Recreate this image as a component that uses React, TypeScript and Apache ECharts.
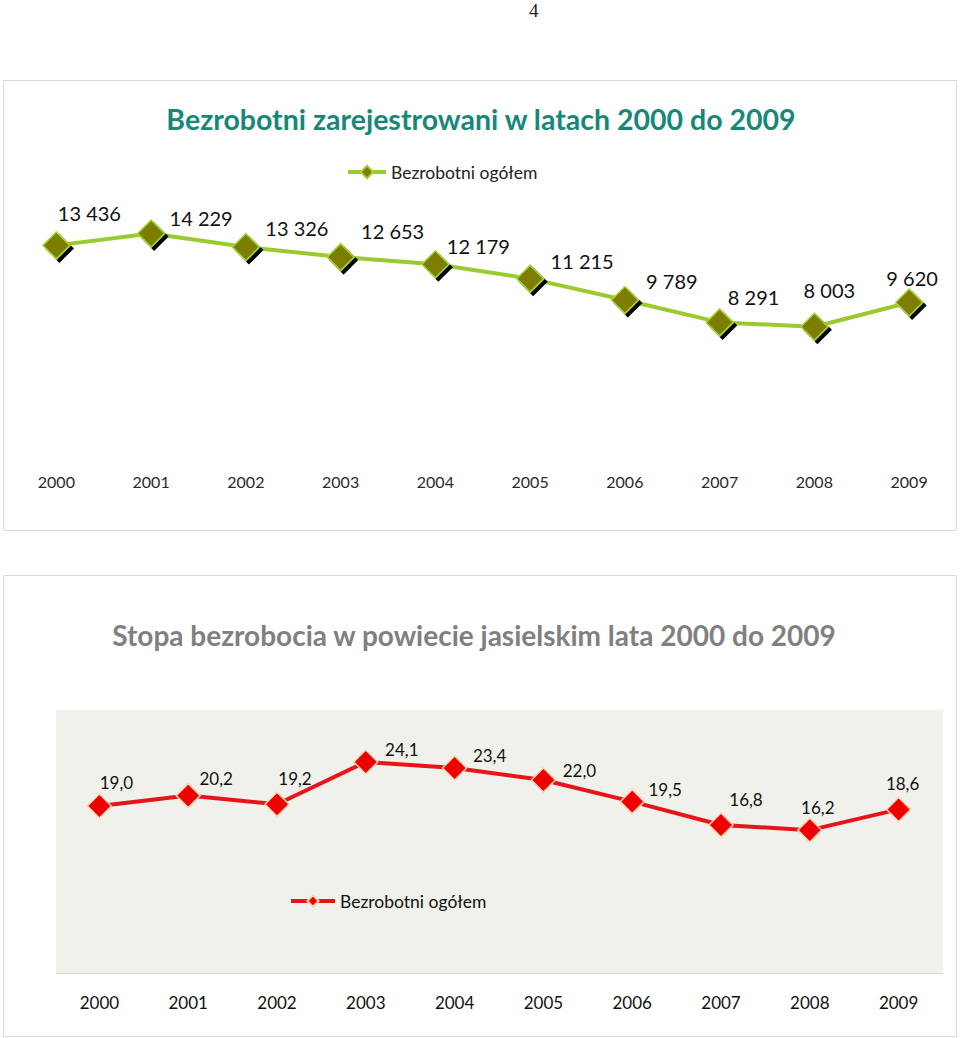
import React, { useEffect, useRef } from "react";
import * as echarts from "echarts";

const years = ["2000", "2001", "2002", "2003", "2004", "2005", "2006", "2007", "2008", "2009"];
const registeredUnemployed = [13436, 14229, 13326, 12653, 12179, 11215, 9789, 8291, 8003, 9620];
const unemploymentRate = [19.0, 20.2, 19.2, 24.1, 23.4, 22.0, 19.5, 16.8, 16.2, 18.6];

const title1 = "Bezrobotni zarejestrowani w latach 2000 do 2009";
const title2 = "Stopa bezrobocia w powiecie jasielskim lata 2000 do 2009";
const seriesName = "Bezrobotni ogółem";

// label offsets (styling only)
const labelOffsets1 = [
  [33, -32], [50, -16], [51, -19], [52, -26], [43, -18],
  [52, -18], [47, -19], [34, -25], [15, -37], [3, -25],
];
const labelOffsets2 = [
  [17, -23], [28, -17], [18, -26], [36, -12], [35, -12],
  [36, -10], [33, -12], [25, -25], [8, -23], [4, -26],
];

const FONT = "Lato, 'Open Sans', sans-serif";

const fmtThousands = (v: number) =>
  String(v).replace(/\B(?=(\d{3})+(?!\d))/g, " ");
const fmtComma = (v: number) => v.toFixed(1).replace(".", ",");

export default function App() {
  const ref1 = useRef<HTMLDivElement>(null);
  const ref2 = useRef<HTMLDivElement>(null);

  useEffect(() => {
    const c1 = echarts.init(ref1.current!, null, { renderer: "svg" });
    const c2 = echarts.init(ref2.current!, null, { renderer: "svg" });

    c1.setOption({
      animation: false,
      graphic: [
        {
          type: "rect",
          z: -10,
          shape: { x: 3.5, y: 80.5, width: 953, height: 450 },
          style: { fill: "#ffffff", stroke: "#d9d9d9", lineWidth: 1 },
        },
      ],
      title: {
        text: title1,
        left: 476,
        textAlign: "center",
        top: 99,
        textStyle: { fontFamily: FONT, fontSize: 28.5, fontWeight: "bold", color: "#17877a" },
      },
      legend: {
        left: 346,
        top: 163,
        padding: 0,
        itemWidth: 38,
        itemHeight: 16,
        itemGap: 8,
        lineStyle: { width: 4 },
        textStyle: { fontFamily: FONT, fontSize: 17.5, color: "#222" },
        data: [seriesName],
      },
      grid: { left: 9, right: 3.5, top: 207, bottom: 103.5 },
      xAxis: {
        type: "category",
        data: years,
        boundaryGap: true,
        axisLine: { show: false },
        axisTick: { show: false },
        axisLabel: { fontFamily: FONT, fontSize: 16, color: "#2a2a2a", margin: 27 },
      },
      yAxis: { type: "value", min: 0, max: 16000, show: false, splitLine: { show: false } },
      series: [
        {
          name: seriesName,
          type: "line",
          symbol: "diamond",
          symbolSize: 27,
          lineStyle: { color: "#9acb2e", width: 4 },
          itemStyle: {
            color: "#7d7d06",
            borderColor: "#a8d43a",
            borderWidth: 1.5,
            shadowColor: "#000000",
            shadowOffsetX: 3,
            shadowOffsetY: 3,
            shadowBlur: 0,
          },
          data: registeredUnemployed.map((v, i) => ({
            value: v,
            label: { offset: labelOffsets1[i] },
          })),
          label: {
            show: true,
            position: "inside",
            formatter: (p: any) => fmtThousands(p.value),
            fontFamily: FONT,
            fontSize: 20,
            color: "#111",
          },
        },
      ],
    });

    c2.setOption({
      animation: false,
      graphic: [
        {
          type: "rect",
          z: -10,
          shape: { x: 3.5, y: 25.5, width: 953, height: 461 },
          style: { fill: "#ffffff", stroke: "#d9d9d9", lineWidth: 1 },
        },
        {
          type: "rect",
          z: -9,
          shape: { x: 56, y: 160, width: 887, height: 263 },
          style: { fill: "#eff1ea" },
        },
        {
          type: "line",
          z: -8,
          shape: { x1: 56, y1: 423.5, x2: 943, y2: 423.5 },
          style: { stroke: "#d9d9d9", lineWidth: 1 },
        },
      ],
      title: {
        text: title2,
        left: 469,
        textAlign: "center",
        top: 66,
        textStyle: { fontFamily: FONT, fontSize: 28, fontWeight: "bold", color: "#808080" },
      },
      legend: {
        left: 289,
        top: 342,
        padding: 0,
        itemWidth: 44,
        itemHeight: 14,
        itemGap: 5,
        lineStyle: { width: 4 },
        textStyle: { fontFamily: FONT, fontSize: 17.5, color: "#111" },
        data: [seriesName],
      },
      grid: { left: 55, right: 17, top: 161, bottom: 68 },
      xAxis: {
        type: "category",
        data: years,
        boundaryGap: true,
        axisLine: { show: false },
        axisTick: { show: false },
        axisLabel: { fontFamily: FONT, fontSize: 17, color: "#111", margin: 24 },
      },
      yAxis: { type: "value", min: 0, max: 30, show: false, splitLine: { show: false } },
      series: [
        {
          name: seriesName,
          type: "line",
          symbol: "diamond",
          symbolSize: 24,
          lineStyle: { color: "#e8141a", width: 4 },
          itemStyle: {
            color: "#ee0000",
            borderColor: "#fbd2b0",
            borderWidth: 1.5,
          },
          data: unemploymentRate.map((v, i) => ({
            value: v,
            label: { offset: labelOffsets2[i] },
          })),
          label: {
            show: true,
            position: "inside",
            formatter: (p: any) => fmtComma(p.value),
            fontFamily: FONT,
            fontSize: 17,
            color: "#111",
          },
        },
      ],
    });

    return () => {
      c1.dispose();
      c2.dispose();
    };
  }, []);

  return (
    <div style={{ position: "absolute", left: 0, top: 0, width: 960, height: 1038, background: "#fff" }}>
      <div
        style={{
          position: "absolute",
          left: 529,
          top: 0,
          fontFamily: "serif",
          fontSize: 19,
          lineHeight: "22px",
          color: "#222",
        }}
      >
        4
      </div>
      <div ref={ref1} style={{ position: "absolute", left: 0, top: 0, width: 960, height: 550 }} />
      <div ref={ref2} style={{ position: "absolute", left: 0, top: 550, width: 960, height: 488 }} />
    </div>
  );
}
